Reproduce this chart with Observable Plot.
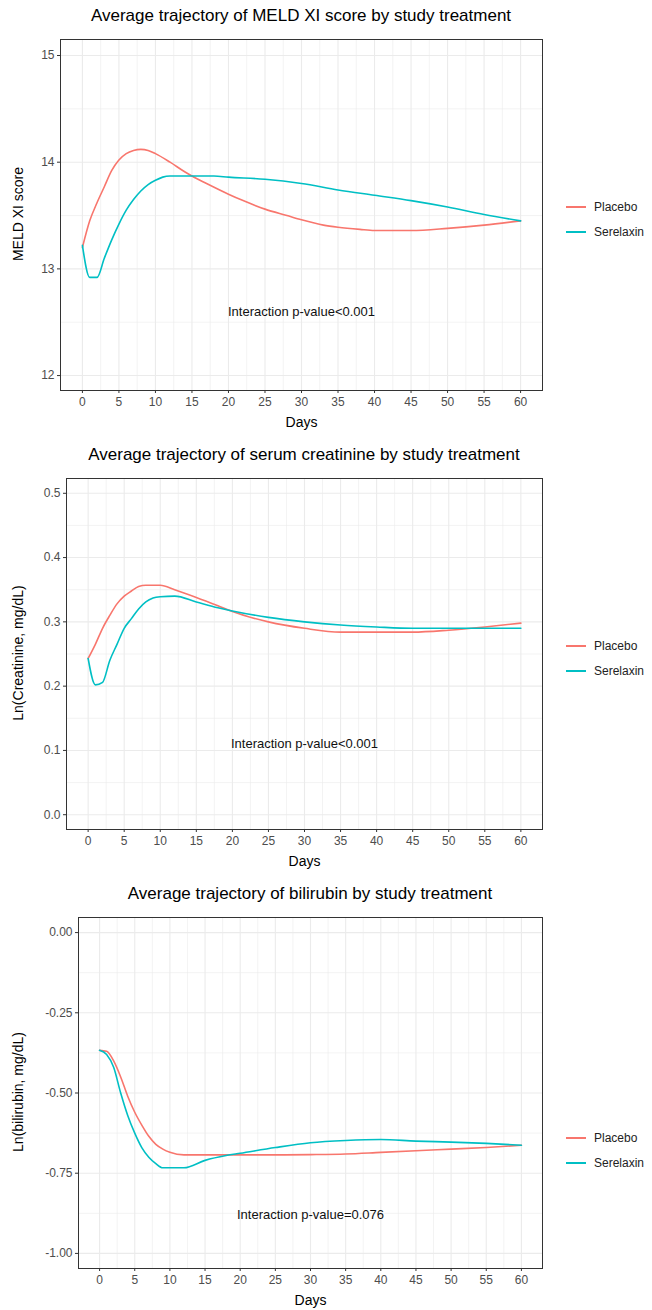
<!DOCTYPE html>
<html><head><meta charset="utf-8">
<script src="https://cdn.jsdelivr.net/npm/d3@7"></script>
<script src="https://cdn.jsdelivr.net/npm/@observablehq/plot@0.6"></script>
<style>
body{margin:0;background:#fff;font-family:Arial,"Liberation Sans",sans-serif}
#wrap{position:relative;width:652px;height:1310px}
.title{position:absolute;font-size:17px;color:#000;text-align:center;white-space:nowrap}
.svgbox{position:absolute;left:0}
.leg{position:absolute;left:566px;font-size:12px;color:#222}
.leg div{height:25px;display:flex;align-items:center}
.leg span{display:inline-block;width:20px;height:2px;margin-right:8px}
</style></head>
<body><div id="wrap"></div>
<script>
// MELD XI
const meldDaysP = [0,1,2,3,4,5,6,7,8,9,10,12,14,15,17,20,22,25,28,30,33,35,38,40,45,50,55,60];
const meldP = [13.2,13.45,13.62,13.77,13.92,14.02,14.08,14.11,14.12,14.11,14.08,14.0,13.91,13.87,13.8,13.7,13.64,13.56,13.5,13.46,13.41,13.39,13.37,13.36,13.36,13.38,13.41,13.45];
const meldDaysS = [0,1,2,3,4,5,6,7,8,9,10,11,12,15,18,20,25,30,35,40,45,50,55,60];
const meldS = [13.22,12.92,12.92,13.1,13.27,13.42,13.55,13.65,13.73,13.79,13.83,13.86,13.87,13.87,13.87,13.86,13.84,13.8,13.74,13.69,13.64,13.58,13.51,13.45];
// creatinine
const creDaysP = [0,1,2,3,4,5,6,7,8,10,12,15,18,20,25,30,35,40,45,50,55,60];
const creP = [0.243,0.265,0.29,0.31,0.328,0.34,0.348,0.355,0.357,0.357,0.35,0.338,0.325,0.316,0.3,0.29,0.284,0.284,0.284,0.287,0.292,0.298];
const creDaysS = [0,1,2,3,4,5,6,7,8,9,10,12,15,18,20,25,30,35,40,45,50,55,60];
const creS = [0.243,0.202,0.206,0.24,0.265,0.29,0.305,0.32,0.331,0.337,0.339,0.34,0.331,0.322,0.317,0.307,0.3,0.295,0.292,0.29,0.29,0.29,0.29];
// bilirubin
const bilDaysP = [0,1,2,3,4,5,6,7,8,9,10,12,15,20,25,30,35,40,45,50,55,60];
const bilP = [-0.367,-0.37,-0.4,-0.45,-0.51,-0.56,-0.6,-0.635,-0.66,-0.675,-0.685,-0.693,-0.693,-0.693,-0.693,-0.692,-0.69,-0.685,-0.68,-0.675,-0.67,-0.663];
const bilDaysS = [0,1,2,3,4,5,6,7,8,9,12,15,18,20,25,30,35,40,45,50,55,60];
const bilS = [-0.367,-0.38,-0.42,-0.5,-0.57,-0.625,-0.67,-0.7,-0.72,-0.733,-0.733,-0.71,-0.695,-0.688,-0.67,-0.655,-0.648,-0.645,-0.65,-0.653,-0.657,-0.663];

const groups = ["Placebo","Serelaxin"];
const colors = ["#F8766D","#00BFC4"];
const xTicks = d3.range(0,61,5);
const xMinor = d3.range(2.5,61,5);
const hy = f => d => f(d).replace("−","-");

const panels = [
  {title:"Average trajectory of MELD XI score by study treatment", ylab:"MELD XI score",
   top:34, left:60, yDomain:[11.86,15.15], yTicks:[12,13,14,15], yMinor:[12.5,13.5,14.5], fmt:d=>d,
   p:[meldDaysP,meldP], s:[meldDaysS,meldS], note:"Interaction p-value<0.001", noteY:12.6, legY:194},
  {title:"Average trajectory of serum creatinine by study treatment", ylab:"Ln(Creatinine, mg/dL)",
   top:473, left:66, yDomain:[-0.023,0.523], yTicks:[0,0.1,0.2,0.3,0.4,0.5], yMinor:[0.05,0.15,0.25,0.35,0.45], fmt:hy(d3.format(".1f")),
   p:[creDaysP,creP], s:[creDaysS,creS], note:"Interaction p-value<0.001", noteY:0.11, legY:633},
  {title:"Average trajectory of bilirubin by study treatment", ylab:"Ln(bilirubin, mg/dL)",
   top:912, left:78, yDomain:[-1.047,0.047], yTicks:[0,-0.25,-0.5,-0.75,-1], yMinor:[-0.125,-0.375,-0.625,-0.875], fmt:hy(d3.format(".2f")),
   p:[bilDaysP,bilP], s:[bilDaysS,bilS], note:"Interaction p-value=0.076", noteY:-0.88, legY:1125}
];

const wrap = document.getElementById("wrap");
panels.forEach(pn => {
  const rows = [];
  pn.p[0].forEach((d,i) => rows.push({day:d, v:pn.p[1][i], g:groups[0]}));
  pn.s[0].forEach((d,i) => rows.push({day:d, v:pn.s[1][i], g:groups[1]}));
  const chart = Plot.plot({
    width:652, height:401, marginTop:5, marginBottom:45, marginLeft:pn.left, marginRight:110,
    style:{fontFamily:"Arial, Liberation Sans, sans-serif", fontSize:"11px", color:"#4d4d4d"},
    x:{domain:[-3,63], ticks:xTicks, label:null},
    y:{domain:pn.yDomain, ticks:pn.yTicks, label:null},
    color:{domain:groups, range:colors},
    marks:[
      Plot.ruleX(xMinor,{stroke:"#ebebeb",strokeWidth:0.6}),
      Plot.ruleY(pn.yMinor,{stroke:"#ebebeb",strokeWidth:0.6}),
      Plot.ruleX(xTicks,{stroke:"#ebebeb",strokeWidth:1.1}),
      Plot.ruleY(pn.yTicks,{stroke:"#ebebeb",strokeWidth:1.1}),
      Plot.axisX({ticks:xTicks, tickSize:3, tickPadding:4, stroke:"#333", fill:"#4d4d4d", fontSize:12,
        label:"Days", labelAnchor:"center", labelArrow:"none", labelOffset:36}),
      Plot.axisY({ticks:pn.yTicks, tickSize:3, tickPadding:3, tickFormat:pn.fmt, stroke:"#333", fill:"#4d4d4d", fontSize:12,
        label:null}),
      Plot.line(rows,{x:"day", y:"v", stroke:"g", strokeWidth:1.6, curve:"monotone-x"}),
      Plot.text([pn.note],{x:30, y:pn.noteY, text:d=>d, fontSize:13, fill:"#111"}),
      Plot.frame({stroke:"#333", strokeWidth:1})
    ]
  });
  d3.select(chart).selectAll("[aria-label='x-axis label'] text").attr("fill","#000").style("font-size","14px");
  const box = document.createElement("div");
  box.className = "svgbox"; box.style.top = pn.top + "px";
  box.appendChild(chart);
  wrap.appendChild(box);

  const t = document.createElement("div");
  t.className = "title"; t.textContent = pn.title;
  t.style.top = (pn.top - 28) + "px";
  t.style.left = (pn.left + (542 - pn.left)/2) + "px";
  t.style.transform = "translateX(-50%)";
  wrap.appendChild(t);

  const yl = document.createElement("div");
  yl.textContent = pn.ylab;
  yl.style.cssText = `position:absolute;left:18px;top:${pn.top+5+175}px;font-size:14px;color:#000;white-space:nowrap;transform:translate(-50%,-50%) rotate(-90deg)`;
  wrap.appendChild(yl);

  const lg = document.createElement("div");
  lg.className = "leg"; lg.style.top = pn.legY + "px";
  lg.innerHTML = groups.map((g,i)=>`<div><span style="background:${colors[i]}"></span>${g}</div>`).join("");
  wrap.appendChild(lg);
});
</script></body></html>
